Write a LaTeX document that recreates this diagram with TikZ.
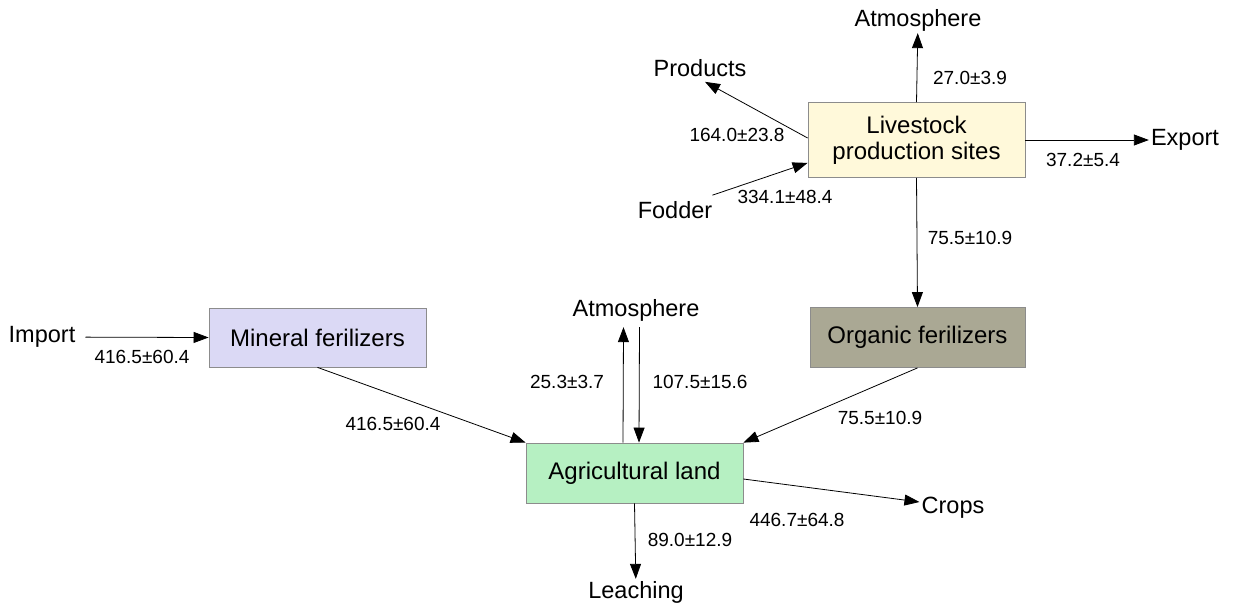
\documentclass[tikz,border=0pt]{standalone}
\usepackage{fontspec}
\setmainfont{Liberation Sans}
\usetikzlibrary{arrows.meta}

\definecolor{livefill}{RGB}{255,249,218}
\definecolor{minfill}{RGB}{219,217,245}
\definecolor{orgfill}{RGB}{170,168,148}
\definecolor{landfill}{RGB}{182,240,194}
\definecolor{boxline}{RGB}{140,140,140}

\begin{document}
\begin{tikzpicture}[x=1pt, y=-1pt,
        box/.style={draw=boxline, line width=0.8pt, inner sep=0pt,
            align=center, font=\fontsize{24}{26}\selectfont},
        place/.style={inner sep=2pt, font=\fontsize{23.5}{26}\selectfont},
        flow/.style={inner sep=0pt, font=\fontsize{19}{22}\selectfont},
        arr/.style={-{Triangle[length=15pt,width=11pt]}, line width=0.8pt}]
    \useasboundingbox (0,0) rectangle (1239,605);

    % boxes
    \node[box, fill=livefill, minimum width=217pt, minimum height=75pt]
        (live) at (916.5,140) {Livestock\\production sites};
    \node[box, fill=orgfill, minimum width=215pt, minimum height=60pt]
        (org) at (917.5,337.5) {Organic ferilizers};
    \node[box, fill=minfill, minimum width=217pt, minimum height=59pt]
        (mine) at (317.5,337.5) {Mineral ferilizers};
    \node[box, fill=landfill, minimum width=217pt, minimum height=60pt]
        (land) at (634.5,473) {Agricultural land};

    % sources and sinks
    \node[place] (atmtop) at (918,20) {Atmosphere};
    \node[place] (prod) at (700,68) {Products};
    \node[place] (export) at (1185,140) {Export};
    \node[place] (fodder) at (675,210) {Fodder};
    \node[place] (atmmid) at (636,310) {Atmosphere};
    \node[place] (import) at (42,337) {Import};
    \node[place] (crops) at (953,508) {Crops};
    \node[place] (leach) at (636,592) {Leaching};

    % flows
    \draw[arr] (live.north) -- (atmtop);
    \draw[arr] ([yshift=2pt]live.west) -- ([xshift=5pt,yshift=-3pt]prod.south);
    \draw[arr] (live.east) -- (export);
    \draw[arr] ([xshift=-2pt,yshift=4pt]fodder.north east) -- ([yshift=15pt]live.south west);
    \draw[arr] (live.south) -- (org.north);
    \draw[arr, shorten <=8pt] (import) -- (mine.west);
    \draw[arr] (mine.south) -- (land.north west);
    \draw[arr] (org.south) -- (land.north east);
    \draw[arr] ([xshift=-11.5pt]land.north) -- ([xshift=-12.5pt,yshift=-4pt]atmmid.south);
    \draw[arr] ([xshift=3.5pt,yshift=-4pt]atmmid.south) -- ([xshift=4.5pt]land.north);
    \draw[arr] ([yshift=-6pt]land.east) -- ([yshift=6pt]crops.west);
    \draw[arr] (land.south) -- (leach);

    % flow values
    \node[flow] (f1) at (970,78) {27.0±3.9};
    \node[flow] (f2) at (737,135) {164.0±23.8};
    \node[flow] (f3) at (1083,160) {37.2±5.4};
    \node[flow] (f4) at (785,197) {334.1±48.4};
    \node[flow] (f5) at (970,238) {75.5±10.9};
    \node[flow] (f6) at (142,357) {416.5±60.4};
    \node[flow] (f7) at (567,382) {25.3±3.7};
    \node[flow] (f8) at (700,382) {107.5±15.6};
    \node[flow] (f9) at (393,424) {416.5±60.4};
    \node[flow] (f10) at (880,418) {75.5±10.9};
    \node[flow] (f11) at (797,520) {446.7±64.8};
    \node[flow] (f12) at (690,540) {89.0±12.9};
\end{tikzpicture}
\end{document}
